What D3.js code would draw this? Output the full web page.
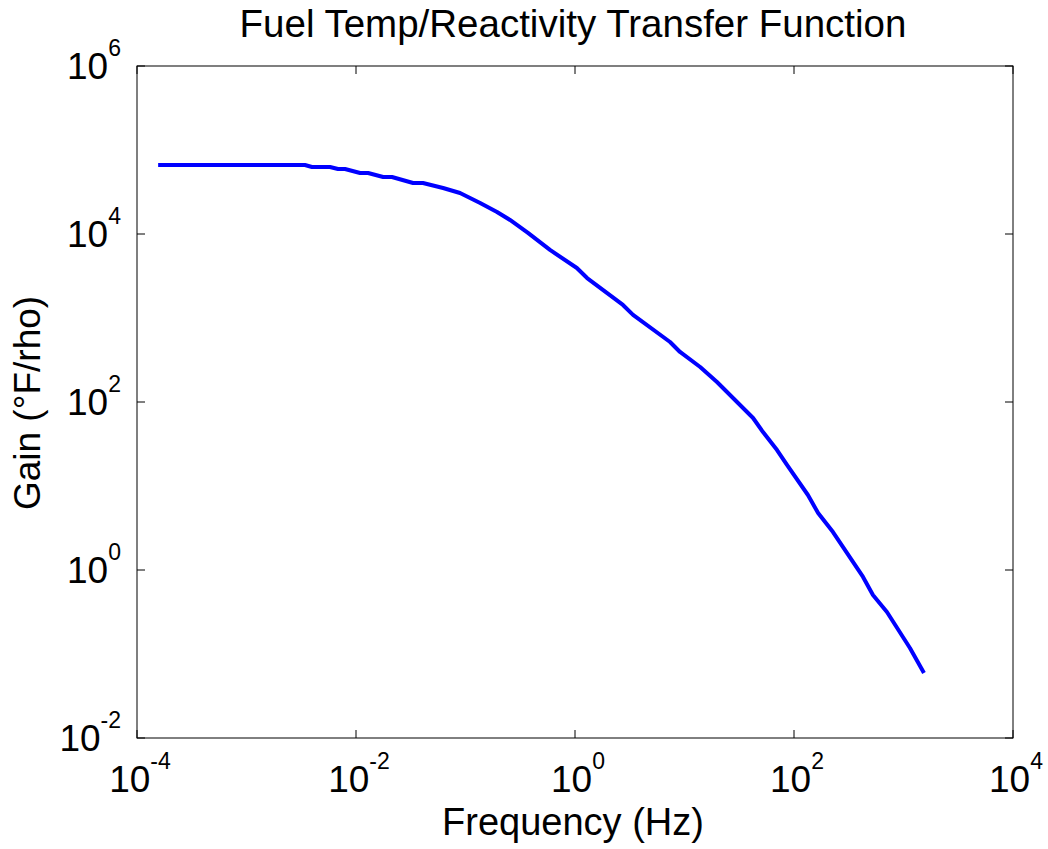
<!DOCTYPE html>
<html>
<head>
<meta charset="utf-8">
<script src="https://cdn.jsdelivr.net/npm/d3@7"></script>
<style>
    body { margin: 0; background: #fff; }
    text { font-family: "Liberation Sans", Arial, sans-serif; fill: #000; }
</style>
</head>
<body>
<svg id="chart" width="1048" height="849"></svg>
<script>
// frequency (Hz) and gain (°F/rho)
const freq = [1.56e-4, 3.42e-3, 3.96e-3, 5.79e-3, 6.85e-3, 7.94e-3, 1.09e-2, 1.29e-2,
    1.77e-2, 2.13e-2, 3.32e-2, 4.09e-2, 6.24e-2, 8.91e-2, 0.136, 0.194, 0.255, 0.372,
    0.591, 1.04, 1.29, 2.74, 3.39, 7.38, 9.10, 13.9, 19.8, 42.3, 52.1, 70.0, 86.3,
    134, 166, 227, 427, 526, 706, 1145, 1538];
const gain = [6.62e4, 6.62e4, 6.28e4, 6.28e4, 5.94e4, 5.94e4, 5.32e4, 5.32e4,
    4.77e4, 4.77e4, 4.05e4, 4.05e4, 3.53e4, 3.08e4, 2.34e4, 1.83e4, 1.47e4, 1.03e4,
    6460, 3940, 2990, 1430, 1090, 518, 394, 261, 173, 64.5, 43.9, 26.8, 17.8,
    7.81, 4.77, 2.83, 0.826, 0.504, 0.316, 0.118, 0.0594];

const xTickExp = [-4, -2, 0, 2, 4];
const yTickExp = [-2, 0, 2, 4, 6];

const titleText = "Fuel Temp/Reactivity Transfer Function";
const xLabel = "Frequency (Hz)";
const yLabel = "Gain (°F/rho)";

let svg = d3.select("#chart");
let plotLeft = 137, plotRight = 1013, plotTop = 66, plotBottom = 738;

let x = d3.scaleLog().domain([1e-4, 1e4]).range([plotLeft, plotRight]);
let y = d3.scaleLog().domain([1e-2, 1e6]).range([plotBottom, plotTop]);

// frame
svg.append("rect")
    .attr("x", plotLeft).attr("y", plotTop)
    .attr("width", plotRight - plotLeft).attr("height", plotBottom - plotTop)
    .attr("fill", "none").attr("stroke", "#000").attr("stroke-width", 1);

// inward ticks on all four sides
let tickLen = 8;
xTickExp.forEach(e => {
    let px = x(Math.pow(10, e));
    svg.append("line").attr("x1", px).attr("x2", px).attr("y1", plotBottom).attr("y2", plotBottom - tickLen)
        .attr("stroke", "#000");
    svg.append("line").attr("x1", px).attr("x2", px).attr("y1", plotTop).attr("y2", plotTop + tickLen)
        .attr("stroke", "#000");

    let t = svg.append("text")
        .attr("x", px + 3).attr("y", 792)
        .attr("text-anchor", "middle")
        .style("font-size", "37px");
    t.append("tspan").text("10");
    t.append("tspan").attr("dy", -23).style("font-size", "23px").text(e);
});

yTickExp.forEach(e => {
    let py = y(Math.pow(10, e));
    svg.append("line").attr("x1", plotLeft).attr("x2", plotLeft + tickLen).attr("y1", py).attr("y2", py)
        .attr("stroke", "#000");
    svg.append("line").attr("x1", plotRight).attr("x2", plotRight - tickLen).attr("y1", py).attr("y2", py)
        .attr("stroke", "#000");

    let t = svg.append("text")
        .attr("x", 121).attr("y", py + 13)
        .attr("text-anchor", "end")
        .style("font-size", "37px");
    t.append("tspan").text("10");
    t.append("tspan").attr("dy", -23).style("font-size", "23px").text(e);
});

// curve
let line = d3.line()
    .x((d, i) => x(freq[i]))
    .y((d, i) => y(gain[i]));

svg.append("path")
    .datum(freq)
    .attr("d", line)
    .attr("fill", "none")
    .attr("stroke", "#0000ff")
    .attr("stroke-width", 4)
    .attr("stroke-linejoin", "round");

// titles
svg.append("text")
    .attr("x", 573).attr("y", 37)
    .attr("text-anchor", "middle")
    .style("font-size", "38.5px")
    .text(titleText);

svg.append("text")
    .attr("x", 573).attr("y", 835)
    .attr("text-anchor", "middle")
    .style("font-size", "38px")
    .text(xLabel);

svg.append("text")
    .attr("transform", "translate(40,403) rotate(-90)")
    .attr("text-anchor", "middle")
    .style("font-size", "37px")
    .text(yLabel);
</script>
</body>
</html>
